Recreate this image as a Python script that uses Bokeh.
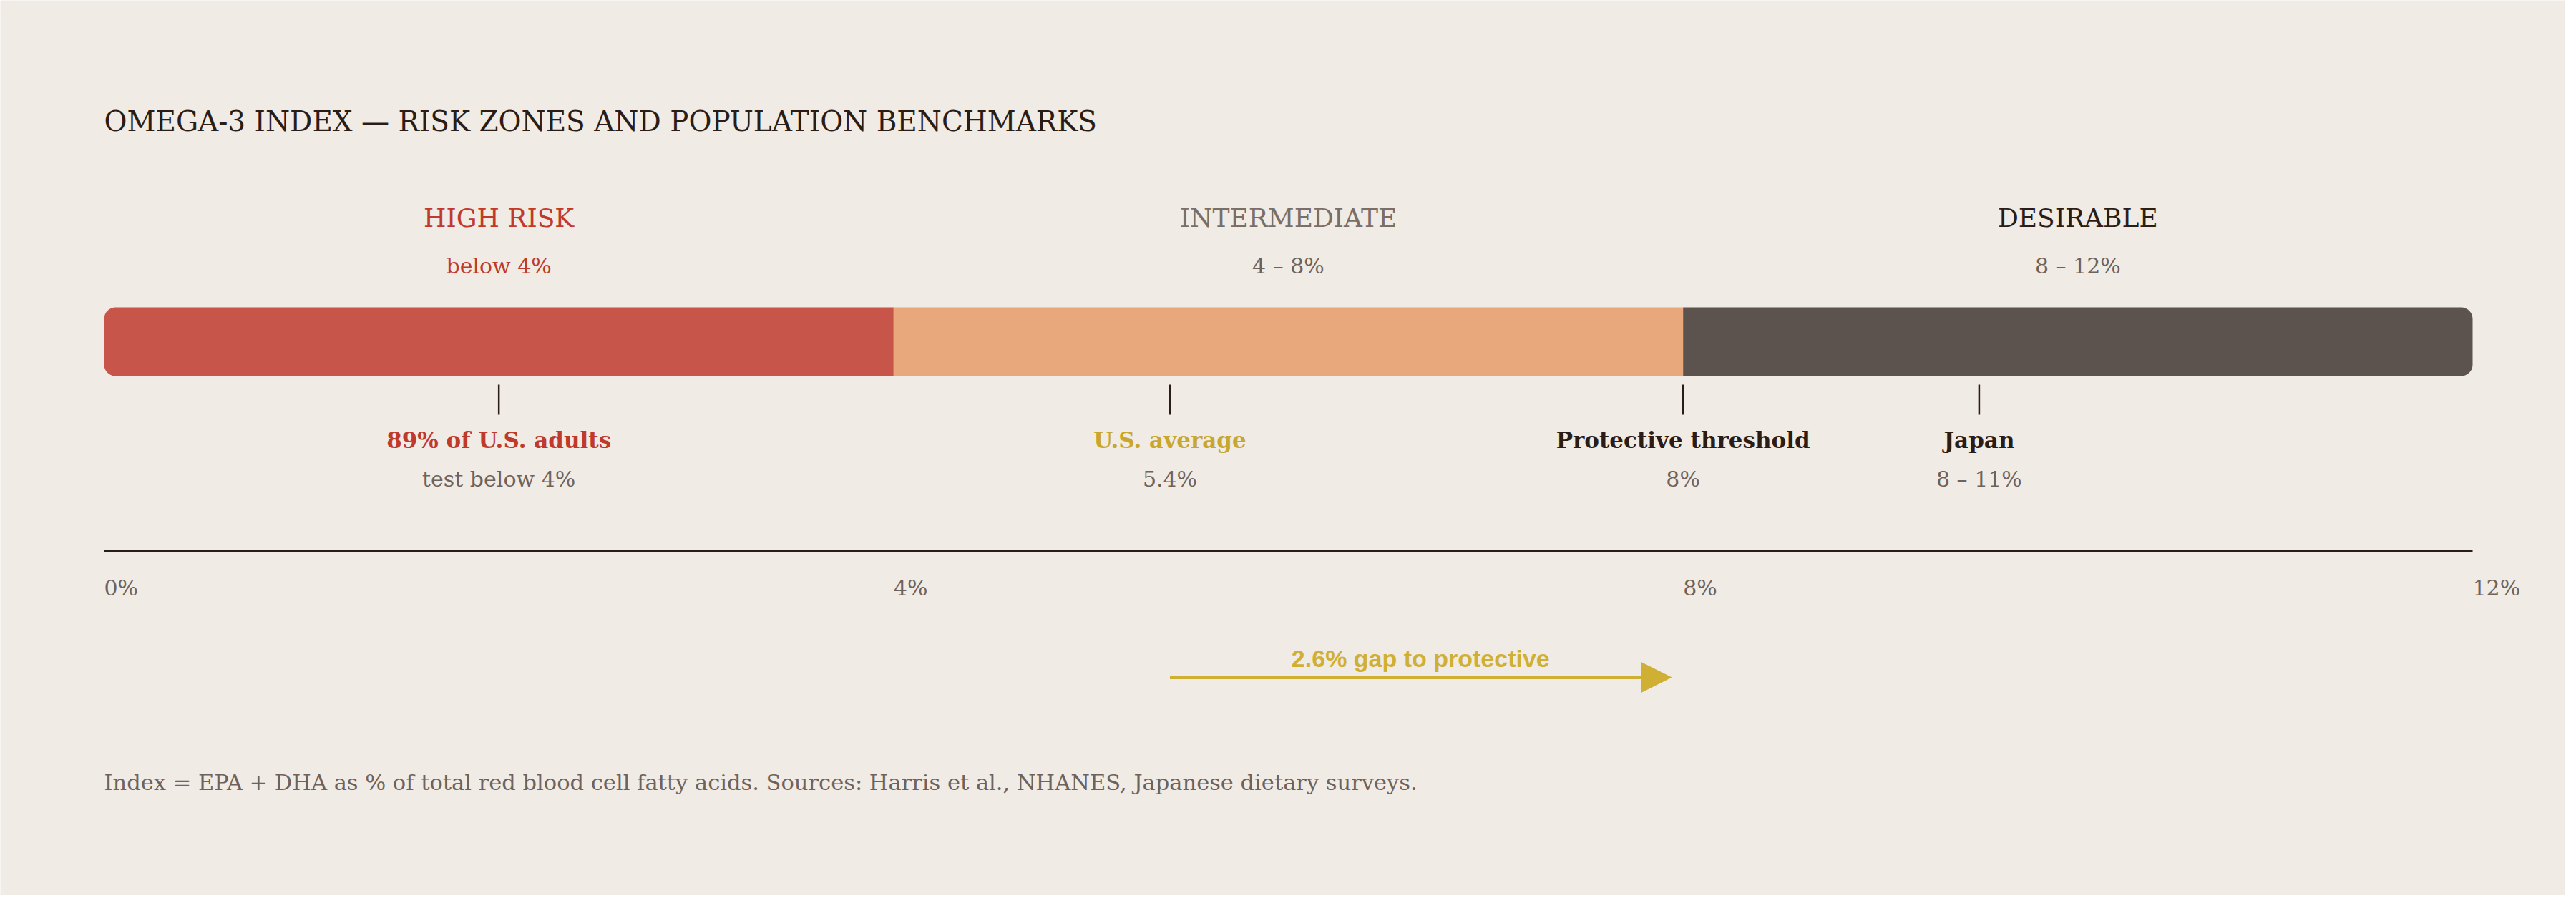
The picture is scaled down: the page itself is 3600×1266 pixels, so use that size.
from bokeh.core.properties import value
from bokeh.embed import file_html
from bokeh.models import Arrow, BoxAnnotation, ColumnDataSource, NormalHead, Range1d
from bokeh.plotting import figure
from bokeh.resources import INLINE

# data
title_text = "OMEGA-3 INDEX \u2014 RISK ZONES AND POPULATION BENCHMARKS"
zone_names = ["HIGH RISK", "INTERMEDIATE", "DESIRABLE"]
zone_ranges = ["below 4%", "4 \u2013 8%", "8 \u2013 12%"]
zone_lo = [0, 4, 8]
zone_hi = [4, 8, 12]

marker_x = [2, 5.4, 8, 9.5]
marker_names = ["89% of U.S. adults", "U.S. average", "Protective threshold", "Japan"]
marker_notes = ["test below 4%", "5.4%", "8%", "8 \u2013 11%"]

ticks = [0, 4, 8, 12]
tick_labels = ["0%", "4%", "8%", "12%"]

us_average = 5.4
protective = 8.0

footnote = ("Index = EPA + DHA as % of total red blood cell fatty acids. "
            "Sources: Harris et al., NHANES, Japanese dietary surveys.")

# styles
BG = "#f0ebe5"
DARK = "#2b1d16"
GREY = "#6e635c"
RED = "#c0392b"
GOLD = "#c9a62e"
ARROW_GOLD = "#d0b034"
zone_fill = ["#c8554a", "#e8a87c", "#5c534e"]
zone_text = [RED, "#7a6e66", DARK]
zone_sub = [RED, GREY, GREY]
marker_color = [RED, GOLD, DARK, DARK]
SERIF = value("DejaVu Serif")

W, H = 3584, 1250
scale = 3310 / 12.0
x0 = -145 / scale
FIX = 14  # text baseline correction


def Y(s):
    # s = pixels from the top of the page
    return H - s


def T(s):
    return H - (s - FIX)


p = figure(width=W, height=H, output_backend="svg", toolbar_location=None,
           x_range=Range1d(x0, x0 + W / scale), y_range=Range1d(0, H),
           min_border=0, background_fill_color=BG, border_fill_color=BG,
           outline_line_color=None)
p.axis.visible = False
p.grid.visible = False

# title
p.text(x=[zone_lo[0]], y=[T(183)], text=[title_text], text_font=SERIF,
       text_font_size="39px", text_color=DARK, text_baseline="alphabetic")

# zone headings
zmid = [(a + b) / 2 for a, b in zip(zone_lo, zone_hi)]
zsrc = ColumnDataSource(dict(x=zmid, name=zone_names, rng=zone_ranges,
                             c1=zone_text, c2=zone_sub))
p.text(x="x", y=T(318), text="name", source=zsrc, text_font=SERIF,
       text_font_size="36px", text_color="c1", text_align="center",
       text_baseline="alphabetic")
p.text(x="x", y=T(385), text="rng", source=zsrc, text_font=SERIF,
       text_font_size="30px", text_color="c2", text_align="center",
       text_baseline="alphabetic")

# zone bar
r = 16
radii = [(r, 0, 0, r), (0, 0, 0, 0), (0, r, r, 0)]
for lo, hi, col, rad in zip(zone_lo, zone_hi, zone_fill, radii):
    p.add_layout(BoxAnnotation(left=lo, right=hi, top=Y(429), bottom=Y(525),
                               fill_color=col, fill_alpha=1.0, line_color=None,
                               border_radius=rad))

# benchmark markers
msrc = ColumnDataSource(dict(x=marker_x, name=marker_names, note=marker_notes,
                             c=marker_color))
p.segment(x0="x", x1="x", y0=Y(537), y1=Y(579), source=msrc,
          line_color=DARK, line_width=2.5)
p.text(x="x", y=T(628), text="name", source=msrc, text_font=SERIF,
       text_font_size="31px", text_font_style="bold", text_color="c",
       text_align="center", text_baseline="alphabetic")
p.text(x="x", y=T(683), text="note", source=msrc, text_font=SERIF,
       text_font_size="30px", text_color=GREY, text_align="center",
       text_baseline="alphabetic")

# scale line and ticks
p.segment(x0=ticks[0], x1=ticks[-1], y0=Y(770), y1=Y(770),
          line_color=DARK, line_width=3)
p.text(x=ticks, y=T(835), text=tick_labels, text_font=SERIF,
       text_font_size="30px", text_color=GREY, text_baseline="alphabetic")

# gap arrow
arrow_end = protective - 0.06
p.add_layout(Arrow(x_start=us_average, x_end=arrow_end,
                   y_start=Y(946), y_end=Y(946),
                   line_color=ARROW_GOLD, line_width=5,
                   end=NormalHead(size=42, fill_color=ARROW_GOLD,
                                  line_color=ARROW_GOLD, line_width=1)))
gap = protective - us_average
p.text(x=[(us_average + arrow_end) / 2], y=[T(933)],
       text=[f"{gap:.1f}% gap to protective"], text_font=value("Liberation Sans"),
       text_font_size="34px", text_font_style="bold", text_color=ARROW_GOLD,
       text_align="center", text_baseline="alphabetic")

# footnote
p.text(x=[zone_lo[0]], y=[T(1107)], text=[footnote], text_font=SERIF,
       text_font_size="30.5px", text_color=GREY, text_baseline="alphabetic")

open("out.html", "w").write(file_html(p, INLINE))
